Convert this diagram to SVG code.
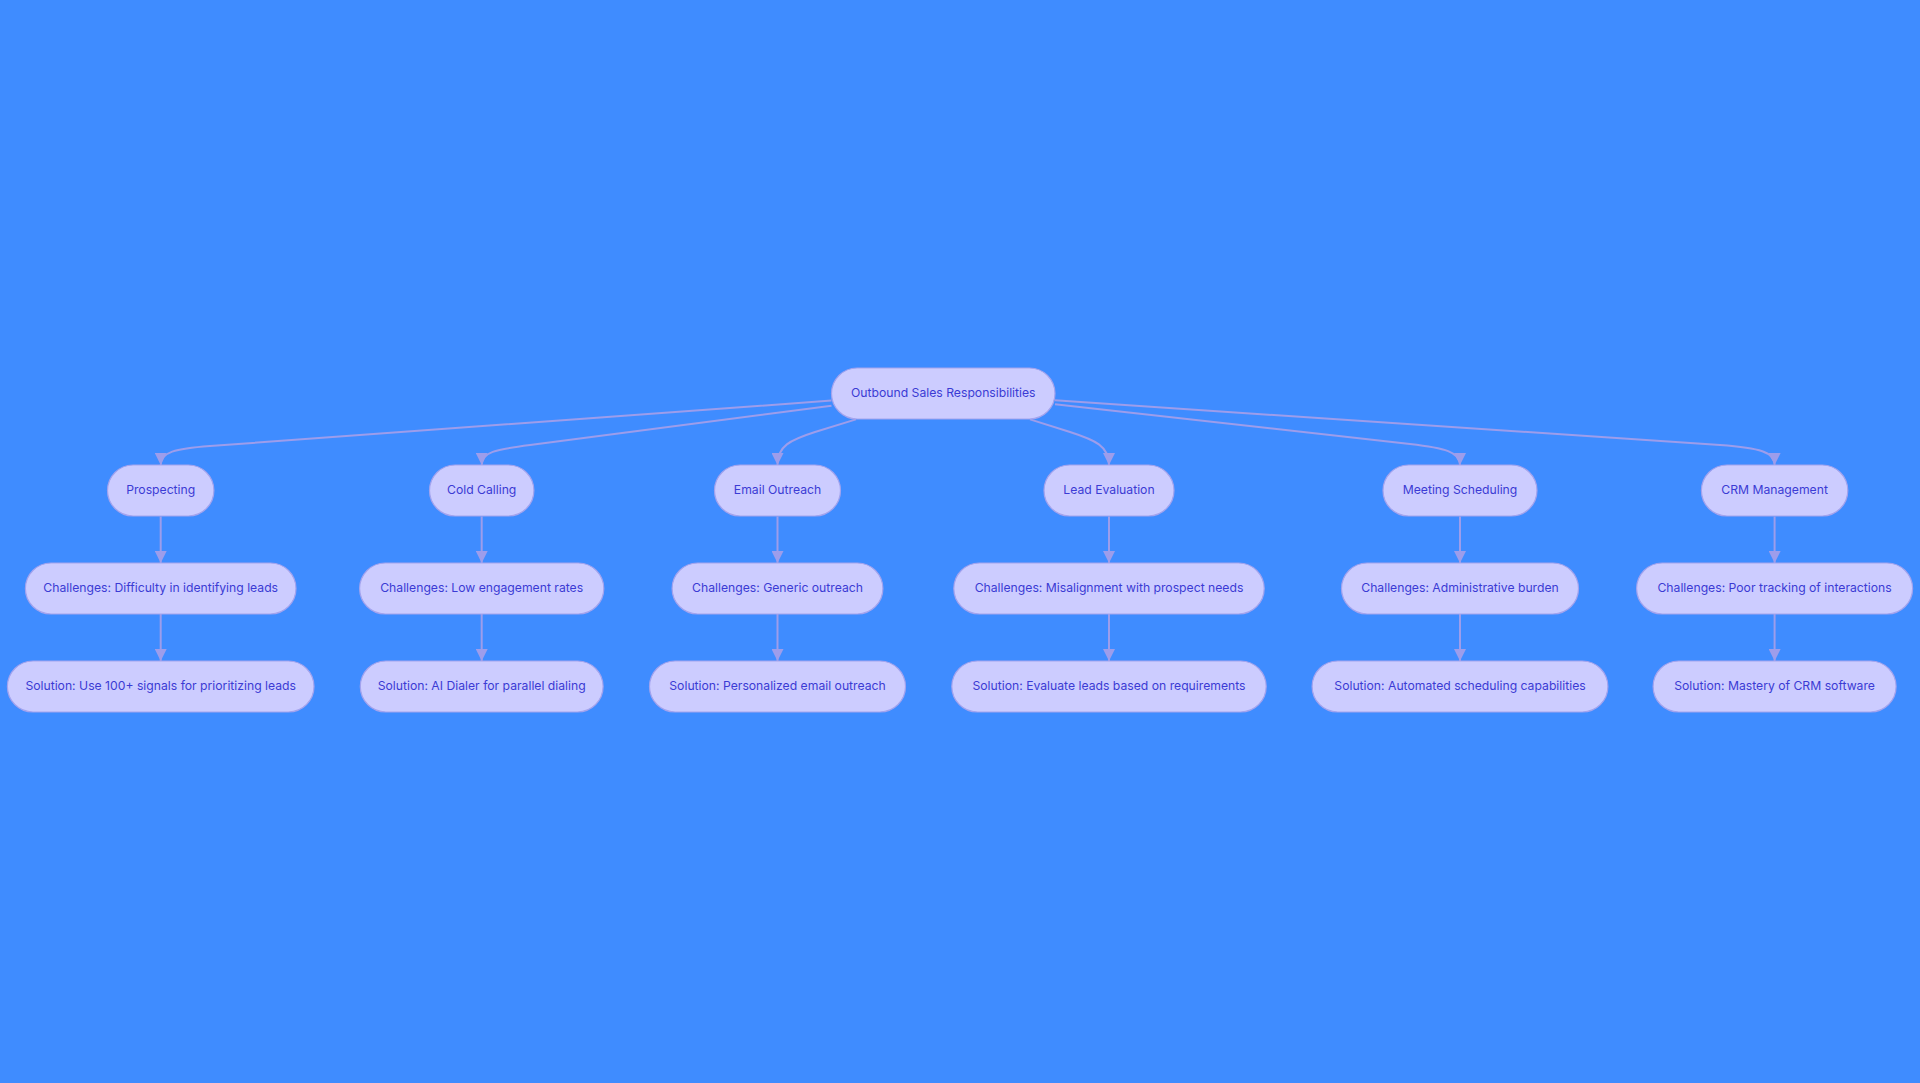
<svg xmlns="http://www.w3.org/2000/svg" width="1920" height="1083" viewBox="0 0 1920 1083">
<defs>
<style>
.node rect{fill:#ccccff;stroke:#a3a3ee;stroke-width:1.2}
.node text{font-family:Inter,"Liberation Sans",sans-serif;font-size:12.2px;fill:#3b3bd4;text-anchor:middle}
.edges path{fill:none;stroke:#9d9deb;stroke-width:2}
</style>
<marker id="arrow" viewBox="0 0 10 10" refX="10" refY="5" markerUnits="userSpaceOnUse" markerWidth="12" markerHeight="12" orient="auto">
<path d="M0,0 L10,5 L0,10 z" fill="#9d9deb"/>
</marker>
</defs>
<rect x="0" y="0" width="1920" height="1083" fill="#3f8cff"/>
<g class="edges">
<path marker-end="url(#arrow)" d="M831.5,400.6 L210,446 C175,448.6 160.7,452 160.7,465"/>
<path marker-end="url(#arrow)" d="M831.5,405.8 L530,445 C495,449.6 481.7,452 481.7,465"/>
<path marker-end="url(#arrow)" d="M856,419.4 L815,432 C790,440 777.5,446 777.5,465"/>
<path marker-end="url(#arrow)" d="M1030,419.4 L1070,432 C1095,440 1109,446 1109,465"/>
<path marker-end="url(#arrow)" d="M1055,404.3 L1410,444 C1445,448 1460,452 1460,465"/>
<path marker-end="url(#arrow)" d="M1055,400.3 L1720,445 C1760,448 1774.6,452 1774.6,465"/>
<path marker-end="url(#arrow)" d="M160.7,516.5 L160.7,563"/>
<path marker-end="url(#arrow)" d="M481.7,516.5 L481.7,563"/>
<path marker-end="url(#arrow)" d="M777.5,516.5 L777.5,563"/>
<path marker-end="url(#arrow)" d="M1109,516.5 L1109,563"/>
<path marker-end="url(#arrow)" d="M1460,516.5 L1460,563"/>
<path marker-end="url(#arrow)" d="M1774.6,516.5 L1774.6,563"/>
<path marker-end="url(#arrow)" d="M160.7,614 L160.7,661"/>
<path marker-end="url(#arrow)" d="M481.7,614 L481.7,661"/>
<path marker-end="url(#arrow)" d="M777.5,614 L777.5,661"/>
<path marker-end="url(#arrow)" d="M1109,614 L1109,661"/>
<path marker-end="url(#arrow)" d="M1460,614 L1460,661"/>
<path marker-end="url(#arrow)" d="M1774.6,614 L1774.6,661"/>
</g>
<g id="root" class="node"><rect x="831.5" y="368" width="223.5" height="51" rx="25.5"/><text x="943.3" y="397.2">Outbound Sales Responsibilities</text></g>
<g id="prospecting" class="node"><rect x="107.5" y="465" width="106.4" height="51" rx="25.5"/><text x="160.7" y="494.2">Prospecting</text></g>
<g id="cold-calling" class="node"><rect x="429.5" y="465" width="104.4" height="51" rx="25.5"/><text x="481.7" y="494.2">Cold Calling</text></g>
<g id="email-outreach" class="node"><rect x="714.5" y="465" width="126" height="51" rx="25.5"/><text x="777.5" y="494.2">Email Outreach</text></g>
<g id="lead-evaluation" class="node"><rect x="1044" y="465" width="130" height="51" rx="25.5"/><text x="1109" y="494.2">Lead Evaluation</text></g>
<g id="meeting-scheduling" class="node"><rect x="1383" y="465" width="154" height="51" rx="25.5"/><text x="1460" y="494.2">Meeting Scheduling</text></g>
<g id="crm-management" class="node"><rect x="1701.4" y="465" width="146.4" height="51" rx="25.5"/><text x="1774.6" y="494.2">CRM Management</text></g>
<g id="challenge-prospecting" class="node"><rect x="25.4" y="563" width="270.6" height="51" rx="25.5"/><text x="160.7" y="592.2">Challenges: Difficulty in identifying leads</text></g>
<g id="challenge-cold-calling" class="node"><rect x="359.6" y="563" width="244.2" height="51" rx="25.5"/><text x="481.7" y="592.2">Challenges: Low engagement rates</text></g>
<g id="challenge-email" class="node"><rect x="672.1" y="563" width="210.8" height="51" rx="25.5"/><text x="777.5" y="592.2">Challenges: Generic outreach</text></g>
<g id="challenge-lead" class="node"><rect x="953.8" y="563" width="310.4" height="51" rx="25.5"/><text x="1109" y="592.2">Challenges: Misalignment with prospect needs</text></g>
<g id="challenge-meeting" class="node"><rect x="1341.5" y="563" width="237" height="51" rx="25.5"/><text x="1460" y="592.2">Challenges: Administrative burden</text></g>
<g id="challenge-crm" class="node"><rect x="1636.6" y="563" width="276" height="51" rx="25.5"/><text x="1774.6" y="592.2">Challenges: Poor tracking of interactions</text></g>
<g id="solution-prospecting" class="node"><rect x="7.4" y="661" width="306.6" height="51" rx="25.5"/><text x="160.7" y="690.2">Solution: Use 100+ signals for prioritizing leads</text></g>
<g id="solution-cold-calling" class="node"><rect x="360.3" y="661" width="242.8" height="51" rx="25.5"/><text x="481.7" y="690.2">Solution: AI Dialer for parallel dialing</text></g>
<g id="solution-email" class="node"><rect x="649.5" y="661" width="256" height="51" rx="25.5"/><text x="777.5" y="690.2">Solution: Personalized email outreach</text></g>
<g id="solution-lead" class="node"><rect x="951.8" y="661" width="314.4" height="51" rx="25.5"/><text x="1109" y="690.2">Solution: Evaluate leads based on requirements</text></g>
<g id="solution-meeting" class="node"><rect x="1312.1" y="661" width="295.8" height="51" rx="25.5"/><text x="1460" y="690.2">Solution: Automated scheduling capabilities</text></g>
<g id="solution-crm" class="node"><rect x="1653.1" y="661" width="243" height="51" rx="25.5"/><text x="1774.6" y="690.2">Solution: Mastery of CRM software</text></g>
</svg>
